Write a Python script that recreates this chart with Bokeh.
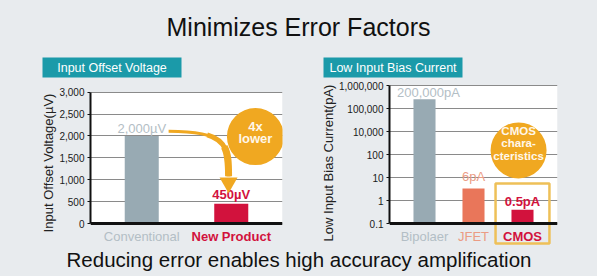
import numpy as np
from bokeh.plotting import figure
from bokeh.models import (Range1d, FactorRange, FixedTicker, NumeralTickFormatter,
                          BoxAnnotation, Span, ColumnDataSource)
from bokeh.layouts import column, row
from bokeh.core.properties import value
from bokeh.embed import file_html
from bokeh.resources import INLINE

# ------------------------------------------------------------------ data
title_text = "Minimizes Error Factors"
footer_text = "Reducing error enables high accuracy amplification"

offset_title = "Input Offset Voltage"
offset_axis_label = "Input Offset Voltage(µV)"
offset_categories = ["Conventional", "New Product"]
offset_values = [2000, 450]
offset_value_labels = ["2,000µV", "450µV"]
offset_ticks = [0, 500, 1000, 1500, 2000, 2500, 3000]
offset_callout = ["4x", "lower"]

bias_title = "Low Input Bias Current"
bias_axis_label = "Low Input Bias Current(pA)"
bias_categories = ["Bipolaer", "JFET", "CMOS"]
bias_values = [200000, 6, 0.5]
bias_value_labels = ["200,000pA", "6pA", "0.5pA"]
bias_tick_labels = ["0.1", "1", "10", "100", "10,000", "100,000", "1,000,000"]
bias_callout = ["CMOS", "chara-", "cteristics"]

# ------------------------------------------------------------------ styles
BG = "#e8ebee"
TEAL = "#1b9aa9"
GRAY_BAR = "#98aab3"
RED = "#d2123d"
SALMON = "#e9765a"
ORANGE = "#f0a821"
BOXC = "#eec058"
GRAY_TXT = "#b3bec5"
SALMON_TXT = "#eb9c84"
GRID = "#8a8a8a"
CREAM = "#fff7ea"
FONT = "Liberation Sans"

TOP_H = 80      # header strip (title + panel captions)
MID_H = 165     # chart panels
BOT_H = 31      # footer strip


def lin_range(v0, px0, v1, px1, h):
    k = (v1 - v0) / (px0 - px1)
    return v0 - (h - px0) * k, v1 + px1 * k


def tail_of_cubic(P, t):
    """Control points of the part of a cubic bezier from t to 1 (de Casteljau)."""
    P = [np.array(p, dtype=float) for p in P]
    p01, p12, p23 = [P[i] + (P[i + 1] - P[i]) * t for i in range(3)]
    p012, p123 = p01 + (p12 - p01) * t, p12 + (p23 - p12) * t
    p0123 = p012 + (p123 - p012) * t
    return p0123, p123, p23, P[3]


def base_fig(w, h, **kw):
    p = figure(width=w, height=h, output_backend="svg", toolbar_location=None, **kw)
    p.background_fill_color = BG
    p.border_fill_color = BG
    p.outline_line_color = None
    return p


def strip_fig(w, h):
    p = base_fig(w, h, x_range=Range1d(0, w), y_range=Range1d(h, 0),
                 x_axis_location=None, y_axis_location=None,
                 min_border_left=0, min_border_right=0, min_border_top=0, min_border_bottom=0)
    p.grid.visible = False
    return p


def style_yaxis(p, label):
    ax = p.yaxis[0]
    ax.axis_label = label
    ax.axis_label_text_font = FONT
    ax.axis_label_text_font_style = "normal"
    ax.axis_label_text_font_size = "13px"
    ax.axis_label_text_color = "#222222"
    ax.axis_label_standoff = 0
    ax.axis_line_width = 2
    ax.axis_line_color = "#111111"
    ax.major_tick_out = 3
    ax.major_tick_in = 0
    ax.major_tick_line_color = "#111111"
    ax.minor_tick_line_color = None
    ax.major_label_text_font = FONT
    ax.major_label_text_font_size = "10px"
    ax.major_label_text_color = "#1a1a1a"
    ax.major_label_standoff = 3
    p.xgrid.visible = False
    p.ygrid.grid_line_color = GRID
    p.ygrid.grid_line_width = 1


# ------------------------------------------------------------------ header strip
top = strip_fig(597, TOP_H)
top.text(x=[298], y=[26.5], text=[title_text], text_align="center", text_baseline="middle",
         text_font=value(FONT), text_font_size="25px", text_color="#111111")
top.quad(left=[42, 323], right=[181, 462], top=[57, 57], bottom=[77, 77],
         fill_color=TEAL, line_color=None)
top.text(x=[111.5, 392.5], y=[67.5, 67.5], text=[offset_title, bias_title],
         text_align="center", text_baseline="middle", text_font=value(FONT),
         text_font_size="12.5px", text_color="white")

# ------------------------------------------------------------------ left panel
yl0, yl1 = lin_range(0, 143, 3000, 11.7, MID_H)
pL = base_fig(300, MID_H,
              x_range=FactorRange(*offset_categories, range_padding=0.0725,
                                  range_padding_units="percent"),
              y_range=Range1d(yl0, yl1), x_axis_location=None,
              min_border_left=90, min_border_right=18, min_border_top=0, min_border_bottom=0)
style_yaxis(pL, offset_axis_label)
pL.yaxis[0].ticker = FixedTicker(ticks=offset_ticks)
pL.yaxis[0].formatter = NumeralTickFormatter(format="0,0")
pL.yaxis[0].bounds = (offset_ticks[0], offset_ticks[-1])
pL.ygrid.ticker = FixedTicker(ticks=offset_ticks)
pL.add_layout(BoxAnnotation(bottom=offset_ticks[0], top=offset_ticks[-1], fill_color="white",
                            fill_alpha=1, line_color=None, level="image"))

srcL = ColumnDataSource(dict(
    cat=offset_categories, val=offset_values, lab=offset_value_labels,
    bar=[GRAY_BAR, RED], tcol=[GRAY_TXT, RED], vstyle=["normal", "bold"],
    voff=[-7.5, -9.5], ccol=[GRAY_TXT, RED], cstyle=["normal", "bold"]))
pL.vbar(x="cat", top="val", bottom=0, width=0.38, fill_color="bar", line_color=None, source=srcL)
pL.text(x="cat", y="val", text="lab", text_color="tcol", text_font_style="vstyle",
        y_offset="voff", text_align="center", text_baseline="middle",
        text_font=value(FONT), text_font_size="13px", source=srcL)
pL.text(x="cat", y=0, text="cat", text_color="ccol", text_font_style="cstyle",
        y_offset=12.5, text_align="center", text_baseline="middle",
        text_font=value(FONT), text_font_size="13px", source=srcL)
pL.add_layout(Span(location=0, dimension="width", line_color="#111111", line_width=3))

# curved, tapering arrow + callout
arrow_pts = [(0.80, 2110), (1.45, 2110), (1.47, 1800), (1.47, 1080)]
for t, w in [(0.0, 3.0), (0.3, 5.0), (0.6, 7.0)]:
    a, b, c, d = tail_of_cubic(arrow_pts, t)
    pL.bezier(x0=[a[0]], y0=[a[1]], cx0=[b[0]], cy0=[b[1]], cx1=[c[0]], cy1=[c[1]],
              x1=[d[0]], y1=[d[1]], line_color=ORANGE, line_width=w)
pL.scatter(x=[1.47], y=[930], marker="inverted_triangle", size=18, fill_color=ORANGE,
           line_color=None)
pL.scatter(x=[1.77], y=[1985], marker="circle", size=57, fill_color=ORANGE, line_color=None)
pL.text(x=[1.77, 1.77], y=[2216, 1940], text=offset_callout, text_align="center",
        text_baseline="middle", text_font=value(FONT), text_font_size="13px",
        text_font_style="bold", text_color=CREAM)

# ------------------------------------------------------------------ right panel
lg0, lg1 = lin_range(-1, 143, 6, 5, MID_H)
pR = base_fig(297, MID_H,
              x_range=FactorRange(*bias_categories, range_padding=0.1429,
                                  range_padding_units="percent"),
              y_range=Range1d(10 ** lg0, 10 ** lg1), y_axis_type="log", x_axis_location=None,
              min_border_left=89, min_border_right=40, min_border_top=0, min_border_bottom=0)
style_yaxis(pR, bias_axis_label)
bias_ticks = [float(t) for t in np.logspace(-1, 6, len(bias_tick_labels))]
pR.yaxis[0].ticker = FixedTicker(ticks=bias_ticks)
pR.yaxis[0].major_label_overrides = {t: s for t, s in zip(bias_ticks, bias_tick_labels)}
pR.yaxis[0].bounds = (bias_ticks[0], bias_ticks[-1])
pR.ygrid.ticker = FixedTicker(ticks=bias_ticks)
pR.add_layout(BoxAnnotation(bottom=bias_ticks[0], top=bias_ticks[-1], fill_color="white",
                            fill_alpha=1, line_color=None, level="image"))

srcR = ColumnDataSource(dict(
    cat=bias_categories, val=bias_values, lab=bias_value_labels,
    bar=[GRAY_BAR, SALMON, RED], tcol=[GRAY_TXT, SALMON_TXT, RED],
    vstyle=["normal", "normal", "bold"], voff=[-6.5, -11.5, -8.5], xoff=[4, 0, 0],
    ccol=[GRAY_TXT, SALMON_TXT, RED], cstyle=["normal", "normal", "bold"]))
pR.vbar(x="cat", top="val", bottom=bias_ticks[0], width=0.45, fill_color="bar",
        line_color=None, source=srcR)
pR.text(x="cat", y="val", text="lab", text_color="tcol", text_font_style="vstyle",
        y_offset="voff", x_offset="xoff", text_align="center", text_baseline="middle",
        text_font=value(FONT), text_font_size="13px", source=srcR)
pR.text(x="cat", y=bias_ticks[0], text="cat", text_color="ccol", text_font_style="cstyle",
        y_offset=12.5, text_align="center", text_baseline="middle",
        text_font=value(FONT), text_font_size="13px", source=srcR)
pR.add_layout(Span(location=bias_ticks[0], dimension="width", line_color="#111111", line_width=3))

# CMOS highlight box + callout
pR.quad(left=[1.95], right=[3.05], top=[10.7], bottom=[0.0097], fill_color=None,
        line_color=BOXC, line_width=2.5)
pR.scatter(x=[2.42], y=[505], marker="circle", size=56, fill_color=ORANGE, line_color=None)
pR.text(x=[2.42] * 3, y=[5212, 1211, 281], text=bias_callout, text_align="center",
        text_baseline="middle", text_font=value(FONT), text_font_size="11.5px",
        text_font_style="bold", text_color=CREAM)

# ------------------------------------------------------------------ footer strip
bottom = strip_fig(597, BOT_H)
bottom.text(x=[298.5], y=[13.5], text=[footer_text], text_align="center", text_baseline="middle",
            text_font=value(FONT), text_font_size="20.5px", text_color="#111111")

layout = column(top, row(pL, pR, spacing=0), bottom, spacing=0)
layout.styles = {"background-color": BG}

open("out.html", "w").write(file_html(layout, INLINE))
